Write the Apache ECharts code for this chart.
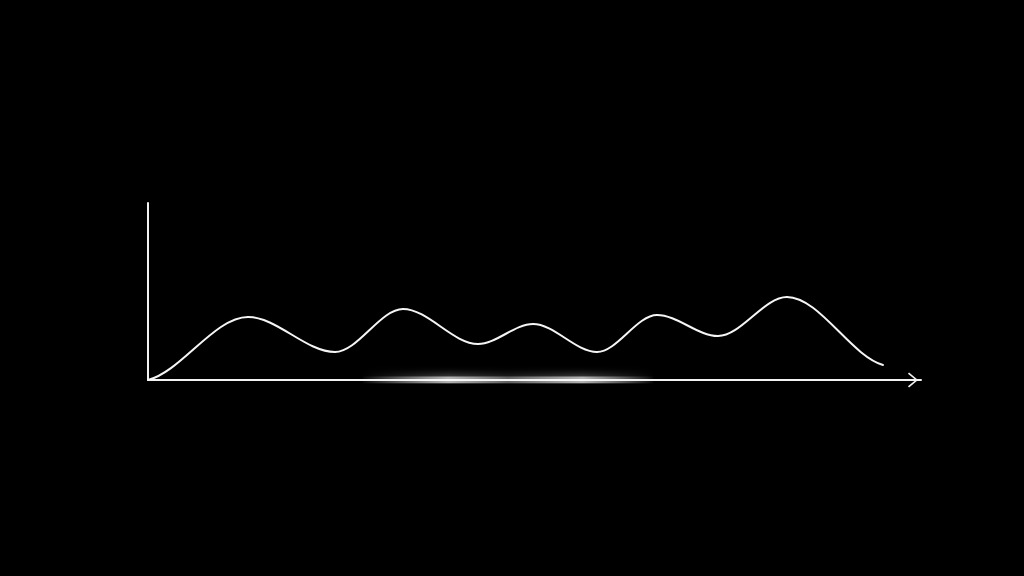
<!DOCTYPE html>
<html>
<head>
<meta charset="utf-8">
<script src="https://cdn.jsdelivr.net/npm/echarts@6/dist/echarts.min.js"></script>
<style>html,body{margin:0;padding:0;background:#000;}#c{width:1024px;height:576px;}</style>
</head>
<body>
<div id="c"></div>
<script>
// curve points: [x, y] in axis units (start, peaks/troughs, end)
var curveX = [0, 100, 187, 255, 330, 385, 449, 509, 570, 639, 735];
var curveY = [0, 63, 28, 71, 36, 56, 28, 65, 44, 83, 15];
// glow along baseline
var glowX = [215, 290, 360, 430, 505];
var glowY = [0, 0, 0, 0, 0];

var curve = curveX.map(function (x, i) { return [x, curveY[i]]; });
var glow = glowX.map(function (x, i) { return [x, glowY[i]]; });

function renderCurve(params, api) {
  if (params.dataIndex !== 0) return null;
  var p = curve.map(function (d) { return api.coord(d); });
  var n = p.length, m = [];
  for (var i = 0; i < n; i++) {
    if (i === 0) m.push(0.4 * (p[1][1] - p[0][1]) / (p[1][0] - p[0][0]));
    else if (i === n - 1) m.push(0.4 * (p[n - 1][1] - p[n - 2][1]) / (p[n - 1][0] - p[n - 2][0]));
    else m.push(0);
  }
  var children = [];
  for (var j = 0; j < n - 1; j++) {
    var dx = (p[j + 1][0] - p[j][0]) / 3;
    children.push({
      type: 'bezierCurve',
      shape: {
        x1: p[j][0], y1: p[j][1],
        cpx1: p[j][0] + dx, cpy1: p[j][1] + m[j] * dx,
        cpx2: p[j + 1][0] - dx, cpy2: p[j + 1][1] - m[j + 1] * dx,
        x2: p[j + 1][0], y2: p[j + 1][1]
      },
      style: { stroke: '#f5f5f5', lineWidth: 2, fill: null, lineCap: 'round' }
    });
  }
  return { type: 'group', children: children };
}

var chart = echarts.init(document.getElementById('c'));
chart.setOption({
  backgroundColor: '#000',
  animation: false,
  grid: { left: 148, right: 103, top: 203, bottom: 196 },
  xAxis: {
    type: 'value', min: 0, max: 773,
    axisLine: {
      show: true,
      lineStyle: { color: '#f2f2f2', width: 2 },
      symbol: ['none', 'path://M10,0 L20,12 L18.3,13.5 L10,3.2 L1.7,13.5 L0,12 Z'],
      symbolSize: [15, 17],
      symbolOffset: [0, -8]
    },
    axisTick: { show: false }, axisLabel: { show: false }, splitLine: { show: false }
  },
  yAxis: {
    type: 'value', min: 0, max: 177,
    axisLine: { show: true, lineStyle: { color: '#f2f2f2', width: 2 } },
    axisTick: { show: false }, axisLabel: { show: false }, splitLine: { show: false }
  },
  series: [
    {
      type: 'line', data: glow, symbol: 'none', silent: true, z: 1,
      lineStyle: {
        width: 7,
        color: new echarts.graphic.LinearGradient(0, 0, 1, 0, [
          { offset: 0, color: 'rgba(255,255,255,0)' },
          { offset: 0.3, color: 'rgba(255,255,255,0.6)' },
          { offset: 0.5, color: 'rgba(255,255,255,0.3)' },
          { offset: 0.75, color: 'rgba(255,255,255,0.6)' },
          { offset: 1, color: 'rgba(255,255,255,0)' }
        ]),
        shadowBlur: 10, shadowColor: 'rgba(255,255,255,0.8)'
      }
    },
    {
      type: 'custom', data: curve, renderItem: renderCurve, silent: true, z: 3,
      encode: { x: 0, y: 1 }, clip: false
    }
  ]
});
</script>
</body>
</html>
